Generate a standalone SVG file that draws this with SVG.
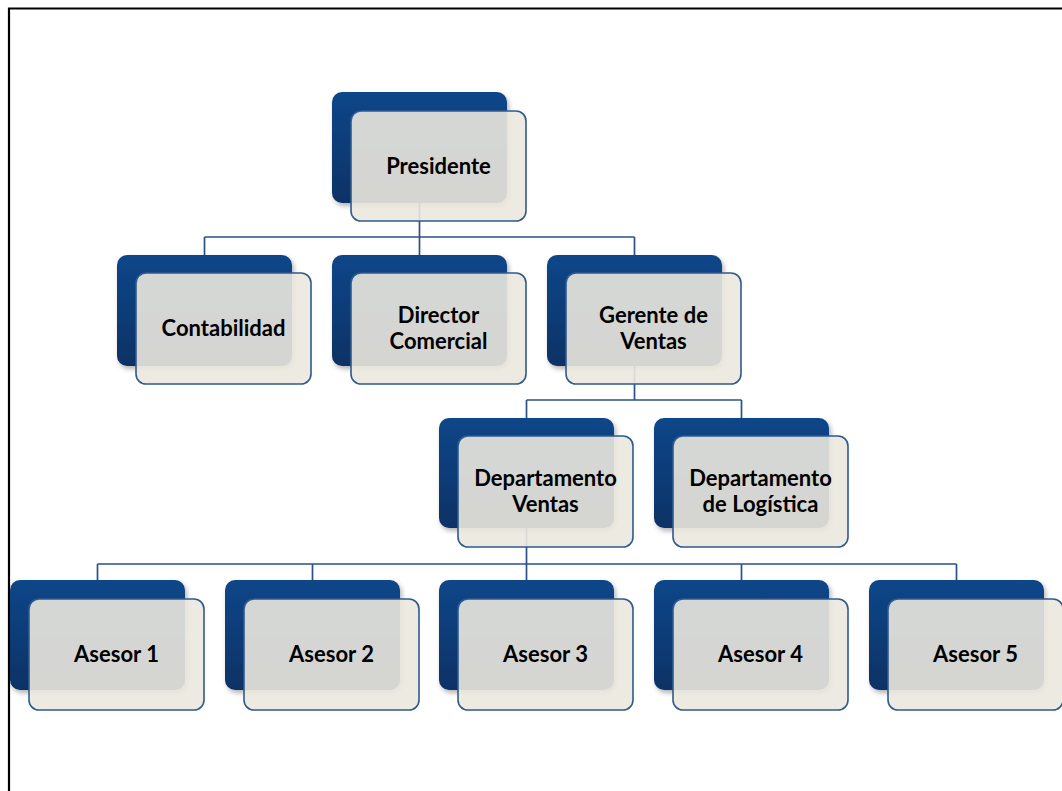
<svg xmlns="http://www.w3.org/2000/svg" width="1062" height="791" viewBox="0 0 1062 791">
<defs>
<linearGradient id="blueGrad" x1="0" y1="0" x2="0" y2="1">
<stop offset="0" stop-color="#104689"/>
<stop offset="1" stop-color="#0b3265"/>
</linearGradient>
<filter id="shadow" x="-10%" y="-10%" width="125%" height="130%">
<feDropShadow dx="2" dy="3" stdDeviation="2.5" flood-color="#000" flood-opacity="0.3"/>
</filter>
</defs>
<style>
.back{fill:url(#blueGrad);filter:url(#shadow);}
.front{fill:#ebe8de;fill-opacity:0.9;stroke:#2e5a90;stroke-width:1.6;}
.conn{fill:none;stroke:#2b5186;stroke-width:1.7;}
.lbl{font-family:Lato,"Open Sans",sans-serif;font-weight:bold;font-size:22px;fill:#000;text-anchor:middle;}
</style>
<rect x="0" y="0" width="1062" height="791" fill="#fff"/>
<path d="M9,791 V8.5 H1062" fill="none" stroke="#000" stroke-width="2.2"/>
<g id="connectors">
<path class="conn" d="M419.5,203 V237 M204.5,237 H634.5 M204.5,237 V255 M419.5,237 V255 M634.5,237 V255"/>
<path class="conn" d="M634.5,366 V400 M526.5,400 H741.5 M526.5,400 V418 M741.5,400 V418"/>
<path class="conn" d="M526.5,528 V564 M97.5,564 H956.5 M97.5,564 V580 M312.5,564 V580 M526.5,564 V580 M741.5,564 V580 M956.5,564 V580"/>
</g>
<g id="presidente">
<rect class="back" x="332" y="92" width="175" height="111" rx="10"/>
<rect class="front" x="351" y="111" width="175" height="110" rx="10"/>
<text class="lbl" x="438.5" y="174">Presidente</text>
</g>
<g id="contabilidad">
<rect class="back" x="117" y="255" width="175" height="111" rx="10"/>
<rect class="front" x="136" y="273" width="175" height="111" rx="10"/>
<text class="lbl" x="223.5" y="336">Contabilidad</text>
</g>
<g id="director">
<rect class="back" x="332" y="255" width="175" height="111" rx="10"/>
<rect class="front" x="351" y="273" width="175" height="111" rx="10"/>
<text class="lbl" x="438.5" y="323">Director</text>
<text class="lbl" x="438.5" y="349">Comercial</text>
</g>
<g id="gerente">
<rect class="back" x="547" y="255" width="175" height="111" rx="10"/>
<rect class="front" x="566" y="273" width="175" height="111" rx="10"/>
<text class="lbl" x="653.5" y="323">Gerente de</text>
<text class="lbl" x="653.5" y="349">Ventas</text>
</g>
<g id="dept-ventas">
<rect class="back" x="439" y="418" width="175" height="110" rx="10"/>
<rect class="front" x="458" y="436" width="175" height="111" rx="10"/>
<text class="lbl" x="545.5" y="486">Departamento</text>
<text class="lbl" x="545.5" y="512">Ventas</text>
</g>
<g id="dept-logistica">
<rect class="back" x="654" y="418" width="175" height="110" rx="10"/>
<rect class="front" x="673" y="436" width="175" height="111" rx="10"/>
<text class="lbl" x="760.5" y="486">Departamento</text>
<text class="lbl" x="760.5" y="512">de Logística</text>
</g>
<g id="asesor1">
<rect class="back" x="10" y="580" width="175" height="110" rx="10"/>
<rect class="front" x="29" y="599" width="175" height="111" rx="10"/>
<text class="lbl" x="116.5" y="662">Asesor 1</text>
</g>
<g id="asesor2">
<rect class="back" x="225" y="580" width="175" height="110" rx="10"/>
<rect class="front" x="244" y="599" width="175" height="111" rx="10"/>
<text class="lbl" x="331.5" y="662">Asesor 2</text>
</g>
<g id="asesor3">
<rect class="back" x="439" y="580" width="175" height="110" rx="10"/>
<rect class="front" x="458" y="599" width="175" height="111" rx="10"/>
<text class="lbl" x="545.5" y="662">Asesor 3</text>
</g>
<g id="asesor4">
<rect class="back" x="654" y="580" width="175" height="110" rx="10"/>
<rect class="front" x="673" y="599" width="175" height="111" rx="10"/>
<text class="lbl" x="760.5" y="662">Asesor 4</text>
</g>
<g id="asesor5">
<rect class="back" x="869" y="580" width="175" height="110" rx="10"/>
<rect class="front" x="888" y="599" width="175" height="111" rx="10"/>
<text class="lbl" x="975.5" y="662">Asesor 5</text>
</g>
</svg>
